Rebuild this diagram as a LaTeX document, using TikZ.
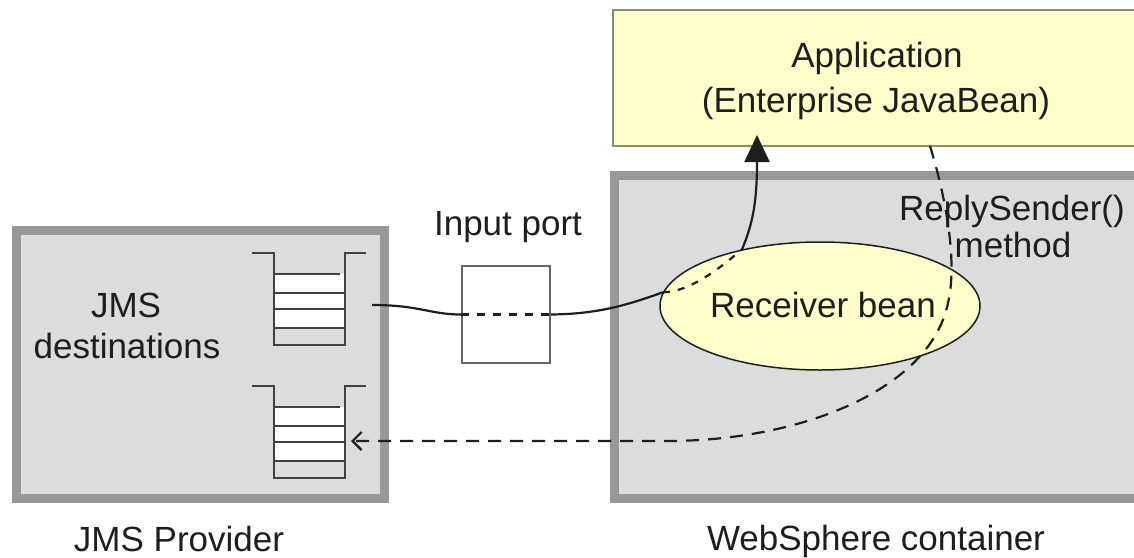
\documentclass[tikz,border=0pt]{standalone}
\usepackage{fontspec}
\setmainfont{Liberation Sans}
\usetikzlibrary{shapes.geometric,arrows.meta}
\definecolor{boxgray}{HTML}{DCDCDC}
\definecolor{bordergray}{HTML}{989898}
\definecolor{paleyellow}{HTML}{FFFFCC}
\definecolor{appborder}{HTML}{8C8C70}
\definecolor{ink}{HTML}{1E1E1E}
\definecolor{qink}{HTML}{404040}
\begin{document}
\begin{tikzpicture}[x=1pt,y=-1pt,
  font=\fontsize{35}{41}\selectfont,
  container/.style={draw=bordergray, line width=9pt, fill=boxgray, inner sep=0pt},
  lbl/.style={text=ink, inner sep=0pt, anchor=base},
  conn/.style={draw=ink, line width=2.2pt},
  dashconn/.style={conn, dash pattern=on 13pt off 9pt},
  queuepic/.pic={
    \fill[white] (0,21) rectangle (71,75);
    \draw[qink, line width=2pt] (-22,0) -- (0,0) -- (0,92) -- (71,92) -- (71,0) -- (92,0);
    \draw[qink, line width=2pt] (0,21) -- (66,21) (0,40) -- (71,40) (0,56) -- (71,56) (0,75) -- (71,75);
  }]
\useasboundingbox (0,0) rectangle (1134,557);
\clip (0,0) rectangle (1134,557);

% containers
\node[container, minimum width=367.5pt, minimum height=268pt] (jms) at (200.25,364) {};
\node[container, minimum width=586pt, minimum height=323pt] (ws) at (907,336.5) {};
\node[draw=appborder, line width=2pt, fill=paleyellow, inner sep=0pt,
      minimum width=587pt, minimum height=136pt] (app) at (906.5,78) {};

% input port
\node[draw=black!60, line width=2pt, fill=white, inner sep=0pt,
      minimum width=88pt, minimum height=97pt] (port) at (506,314.5) {};

% receiver bean
\node[ellipse, draw=ink, line width=1.5pt, fill=paleyellow, inner sep=0pt,
      minimum width=320pt, minimum height=128pt] (bean) at (820,306) {};

% queues
\pic at (274,253) {queuepic};
\pic at (274,386) {queuepic};
\node[inner sep=0pt, minimum width=71pt, minimum height=92pt] (q1) at (309.5,299) {};
\node[inner sep=0pt, minimum width=71pt, minimum height=92pt] (q2) at (309.5,432) {};
\coordinate (q1out) at (372,305);
\coordinate (q2in) at (351,441);
\coordinate (apptip) at (757,135);
\coordinate (appout) at (930,146);

% request connector
\draw[conn] (q1out) .. controls (420,305) and (430,314.5) .. (port.west);
\draw[conn, dash pattern=on 8pt off 8pt] (port.west) -- (port.east);
\draw[conn] (port.east) .. controls (600,314) and (630,304) .. (bean.175);
\draw[conn, dash pattern=on 7pt off 8pt] (bean.175) .. controls (690,292) and (720,268) .. (bean.144);
\draw[conn, -{Triangle[length=27pt,width=25pt]}] (bean.144) .. controls (752,225) and (757,205) .. (apptip);

% reply connector
\draw[dashconn, -{Straight Barb[length=9pt,width=18pt]}] (appout)
  .. controls (945,195) and (958,260) .. (948,303)
  .. controls (930,390) and (800,441) .. (667,441) -- (q2in);

% texts
\node[lbl] (t1) at (877,67) {Application};
\node[lbl] (t2) at (876,112) {(Enterprise JavaBean)};
\node[lbl] (t3) at (1012,220) {ReplySender()};
\node[lbl] (t4) at (1013,257) {method};
\node[lbl] (t5) at (823,317) {Receiver bean};
\node[lbl] (t6) at (508,235) {Input port};
\node[lbl] (t7) at (126,317) {JMS};
\node[lbl] (t8) at (127,358) {destinations};
\node[lbl] (t9) at (179,551) {JMS Provider};
\node[lbl] (t10) at (876,550) {WebSphere container};
\end{tikzpicture}
\end{document}
